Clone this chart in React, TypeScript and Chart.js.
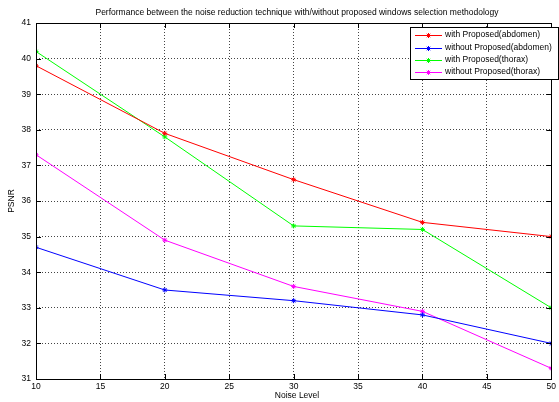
import React, { useEffect, useRef } from "react";
import { Chart, registerables } from "chart.js";

Chart.register(...registerables);

const noiseLevels = [10, 20, 30, 40, 50];
const withAbdomen = [39.8, 37.9, 36.6, 35.4, 35.0];
const withoutAbdomen = [34.7, 33.5, 33.2, 32.8, 32.0];
const withThorax = [40.2, 37.8, 35.3, 35.2, 33.0];
const withoutThorax = [37.3, 34.9, 33.6, 32.9, 31.3];
const seriesNames = [
  "with Proposed(abdomen)",
  "without Proposed(abdomen)",
  "with Proposed(thorax)",
  "without Proposed(thorax)",
];
const seriesColors = ["#ff0000", "#0000ff", "#00ff00", "#ff00ff"];
const titleText =
  "Performance between the noise reduction technique with/without proposed windows selection methodology";
const xTitle = "Noise Level";
const yTitle = "PSNR";

const FONT = "Arial, 'Liberation Sans', sans-serif";
const FS = 8.5;

export default function App() {
  const ref = useRef<HTMLCanvasElement>(null);
  useEffect(() => {
    document.body.style.margin = "0";
    const canvas = ref.current!;
    const allSeries = [withAbdomen, withoutAbdomen, withThorax, withoutThorax];

    const decor = {
      id: "decor",
      afterDraw(chart: any) {
        const ctx = chart.ctx;
        const a = chart.chartArea;
        const xs = chart.scales.x;
        const ys = chart.scales.y;
        ctx.save();
        ctx.strokeStyle = "#000";
        ctx.lineWidth = 1;
        ctx.setLineDash([]);
        ctx.strokeRect(Math.round(a.left) + 0.5, Math.round(a.top) + 0.5, Math.round(a.right - a.left), Math.round(a.bottom - a.top));
        ctx.beginPath();
        for (let v = 10; v <= 50; v += 5) {
          const px = Math.round(xs.getPixelForValue(v)) + 0.5;
          ctx.moveTo(px, a.bottom);
          ctx.lineTo(px, a.bottom - 5);
          ctx.moveTo(px, a.top);
          ctx.lineTo(px, a.top + 5);
        }
        for (let v = 31; v <= 41; v += 1) {
          const py = Math.round(ys.getPixelForValue(v)) + 0.5;
          ctx.moveTo(a.left, py);
          ctx.lineTo(a.left + 5, py);
          ctx.moveTo(a.right, py);
          ctx.lineTo(a.right - 5, py);
        }
        ctx.stroke();
        ctx.fillStyle = "#000";
        ctx.font = `${FS}px ${FONT}`;
        ctx.textAlign = "center";
        ctx.textBaseline = "middle";
        ctx.fillText(titleText, 297, 13);
        ctx.fillText(xTitle, 297, 396);
        ctx.save();
        ctx.translate(12, (a.top + a.bottom) / 2);
        ctx.rotate(-Math.PI / 2);
        ctx.fillText(yTitle, 0, 0);
        ctx.restore();
        const lx = 410, ly = 27, lw = 148, lh = 52;
        ctx.fillStyle = "#fff";
        ctx.fillRect(lx, ly, lw, lh);
        ctx.strokeStyle = "#000";
        ctx.strokeRect(lx + 0.5, ly + 0.5, lw, lh);
        const rows = [35, 47.5, 60, 72];
        ctx.textAlign = "left";
        for (let i = 0; i < 4; i++) {
          const y = rows[i];
          ctx.strokeStyle = seriesColors[i];
          ctx.beginPath();
          ctx.moveTo(415, Math.round(y) + 0.5);
          ctx.lineTo(442, Math.round(y) + 0.5);
          ctx.stroke();
          const cx = 428.5, cy = Math.round(y) + 0.5, r = 2.5;
          ctx.beginPath();
          ctx.moveTo(cx - r, cy); ctx.lineTo(cx + r, cy);
          ctx.moveTo(cx, cy - r); ctx.lineTo(cx, cy + r);
          ctx.moveTo(cx - r * 0.7, cy - r * 0.7); ctx.lineTo(cx + r * 0.7, cy + r * 0.7);
          ctx.moveTo(cx - r * 0.7, cy + r * 0.7); ctx.lineTo(cx + r * 0.7, cy - r * 0.7);
          ctx.stroke();
          ctx.fillStyle = "#000";
          ctx.fillText(seriesNames[i], 445, y);
        }
        ctx.restore();
      },
    };

    const chart = new Chart(canvas, {
      type: "line",
      data: {
        datasets: allSeries.map((s, i) => ({
          label: seriesNames[i],
          data: noiseLevels.map((x, j) => ({ x, y: s[j] })),
          borderColor: seriesColors[i],
          backgroundColor: seriesColors[i],
          borderWidth: 1,
          pointStyle: "star",
          pointRadius: 2.5,
          pointBorderWidth: 1,
          tension: 0,
          fill: false,
        })),
      },
      options: {
        animation: false,
        responsive: false,
        devicePixelRatio: 1,
        layout: { padding: { top: 23, right: 1, left: 0, bottom: 0 } },
        plugins: { legend: { display: false }, title: { display: false }, tooltip: { enabled: false } },
        scales: {
          x: {
            type: "linear",
            min: 10,
            max: 50,
            afterFit(scale: any) { scale.height = 23; },
            ticks: { stepSize: 5, color: "#000", font: { family: FONT, size: FS }, padding: 3, maxRotation: 0 },
            grid: { color: "#444", drawTicks: false, tickLength: 0 },
            border: { display: false, dash: [1, 2] },
          },
          y: {
            min: 31,
            max: 41,
            afterFit(scale: any) { scale.width = 36; },
            ticks: { stepSize: 1, color: "#000", font: { family: FONT, size: FS }, padding: 5 },
            grid: { color: "#444", drawTicks: false, tickLength: 0 },
            border: { display: false, dash: [1, 2] },
          },
        },
      } as any,
      plugins: [decor],
    });
    return () => chart.destroy();
  }, []);
  return <canvas ref={ref} width={559} height={402} style={{ display: "block" }} />;
}
